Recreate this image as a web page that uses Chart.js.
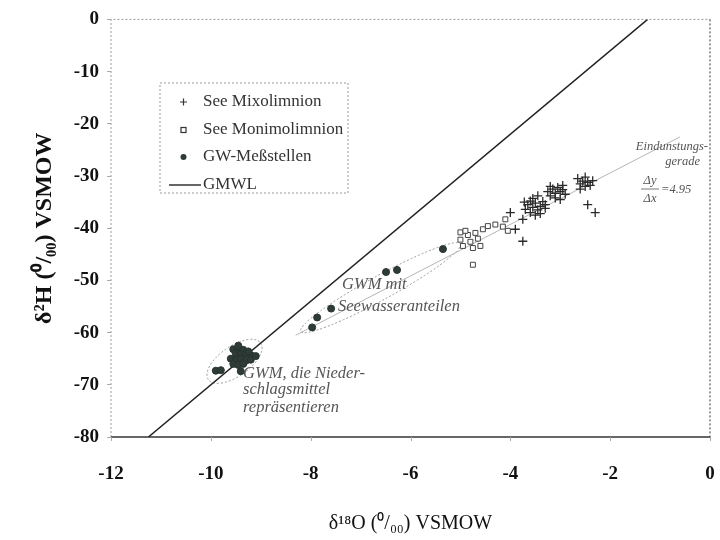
<!DOCTYPE html>
<html>
<head>
<meta charset="utf-8">
<script src="https://cdn.jsdelivr.net/npm/chart.js@4"></script>
<style>
 html,body{margin:0;padding:0;background:#fff;}
 #wrap{width:720px;height:540px;position:relative;}
</style>
</head>
<body>
<div id="wrap"><canvas id="c" width="720" height="540"></canvas></div>
<script>
// See Mixolimnion (+)
const mixoX=[-3.72,-3.65,-3.6,-3.55,-3.5,-3.45,-3.4,-3.35,-3.3,-3.6,-3.5,-3.4,-3.7,-3.3,-3.55,-3.45,
 -3.25,-3.2,-3.15,-3.1,-3.05,-3.0,-2.95,-2.9,-3.1,-3.0,-3.2,-2.95,
 -2.65,-2.6,-2.55,-2.5,-2.45,-2.4,-2.35,-2.6,-2.5,
 -2.45,-2.3,-4.0,-3.75,-3.9,-3.75];
const mixoY=[-35.0,-35.5,-34.8,-36.0,-35.2,-36.5,-35.8,-34.9,-36.2,-37.0,-37.5,-37.2,-36.4,-35.5,-34.3,-33.8,
 -33.0,-33.8,-32.5,-33.3,-32.2,-33.0,-32.6,-33.5,-34.2,-34.5,-32.0,-31.8,
 -30.5,-31.5,-31.0,-32.0,-31.2,-31.8,-30.9,-32.5,-30.2,
 -35.5,-37.0,-37.0,-38.3,-40.2,-42.5];
// See Monimolimnion (open squares)
const monimoX=[-5.0,-5.0,-4.95,-4.85,-4.8,-4.75,-4.7,-4.65,-4.6,-4.55,-4.45,-4.3,-4.15,-4.05,-4.1,-4.75,-4.9];
const monimoY=[-40.8,-42.2,-43.4,-41.3,-42.6,-43.8,-40.9,-42.0,-43.4,-40.2,-39.6,-39.3,-39.7,-40.5,-38.3,-47.0,-40.5];
// GW-Messstellen (filled dots)
const gwmX=[-9.55,-9.45,-9.35,-9.5,-9.4,-9.3,-9.2,-9.1,-9.6,-9.5,-9.4,-9.3,-9.2,-9.55,-9.45,-9.35,-9.25,-9.45,-9.9,-9.8,-9.4,
 -7.97,-7.87,-7.59,-6.49,-6.27,-5.35];
const gwmY=[-63.2,-63.0,-63.3,-64.0,-64.2,-64.0,-64.3,-64.5,-65.0,-65.3,-65.0,-65.4,-65.2,-66.0,-66.2,-66.0,-63.6,-62.5,-67.3,-67.2,-67.4,
 -59.0,-57.1,-55.4,-48.4,-48.0,-44.0];
// GMWL and Eindunstungsgerade end points
const gmwlX=[-11.25,-1.25];
const gmwlY=[-80,0];
const evapX=[-8.3,-0.6];
const evapY=[-60.5,-22.5];
const xTicks=[-12,-10,-8,-6,-4,-2,0];
const yTicks=[0,-10,-20,-30,-40,-50,-60,-70,-80];

const pts=(xs,ys)=>xs.map((x,i)=>({x:x,y:ys[i]}));
const serif='"Liberation Serif","Times New Roman",serif';

const extras={
 id:'extras',
 beforeDatasetsDraw(chart){
   const ctx=chart.ctx,a=chart.chartArea,sx=chart.scales.x,sy=chart.scales.y;
   ctx.save();
   // plot frame
   ctx.setLineDash([2,2]);ctx.strokeStyle='#9a9a9a';ctx.lineWidth=1;
   ctx.beginPath();ctx.moveTo(a.left,a.bottom);ctx.lineTo(a.left,a.top);ctx.lineTo(a.right,a.top);ctx.stroke();
   ctx.strokeStyle='#777';ctx.lineWidth=1.5;
   ctx.beginPath();ctx.moveTo(a.right,a.top);ctx.lineTo(a.right,a.bottom);ctx.stroke();
   ctx.setLineDash([]);ctx.strokeStyle='#333';ctx.lineWidth=1.5;
   ctx.beginPath();ctx.moveTo(a.left,a.bottom);ctx.lineTo(a.right,a.bottom);ctx.stroke();
   // small x tick marks
   ctx.strokeStyle='#aaa';ctx.lineWidth=1;
   ctx.beginPath();
   sx.ticks.forEach(t=>{const p=Math.round(sx.getPixelForValue(t.value))+0.5;ctx.moveTo(p,a.bottom);ctx.lineTo(p,a.bottom+4);});
   ctx.stroke();
   // grouping ellipses
   ctx.setLineDash([2,2]);ctx.strokeStyle='#999';ctx.lineWidth=1;
   const ell=(x1,y1,x2,y2,r)=>{
     const p1=[sx.getPixelForValue(x1),sy.getPixelForValue(y1)],p2=[sx.getPixelForValue(x2),sy.getPixelForValue(y2)];
     const cx=(p1[0]+p2[0])/2,cy=(p1[1]+p2[1])/2;
     const len=Math.hypot(p2[0]-p1[0],p2[1]-p1[1])/2,ang=Math.atan2(p2[1]-p1[1],p2[0]-p1[0]);
     ctx.beginPath();ctx.ellipse(cx,cy,len,r,ang,0,Math.PI*2);ctx.stroke();
   };
   ell(-8.2,-59.8,-5.0,-43.0,12);
   ell(-10.05,-69.0,-9.0,-62.0,15);
   ctx.restore();
 },
 afterDraw(chart){
   const ctx=chart.ctx;
   ctx.save();
   // legend box
   ctx.setLineDash([2,2]);ctx.strokeStyle='#999';ctx.lineWidth=1;
   ctx.strokeRect(160,83,188,110);
   ctx.setLineDash([]);
   ctx.font='17px '+serif;ctx.fillStyle='#333';ctx.textBaseline='middle';
   const rows=[['See Mixolimnion',102],['See Monimolimnion',130],['GW-Meßstellen',157],['GMWL',185]];
   rows.forEach(r=>ctx.fillText(r[0],203,r[1]));
   ctx.strokeStyle='#333';ctx.lineWidth=1.2;
   ctx.beginPath();ctx.moveTo(180,102);ctx.lineTo(187,102);ctx.moveTo(183.5,98.5);ctx.lineTo(183.5,105.5);ctx.stroke();
   ctx.strokeRect(181,127.5,5,5);
   ctx.fillStyle='#2f3b36';ctx.beginPath();ctx.arc(183.5,157,3,0,Math.PI*2);ctx.fill();
   ctx.lineWidth=1.5;ctx.beginPath();ctx.moveTo(169,185);ctx.lineTo(201,185);ctx.stroke();
   // annotations
   ctx.fillStyle='#555';ctx.textBaseline='alphabetic';
   ctx.font='italic 16.5px '+serif;
   ctx.fillText('GWM mit',342,289);
   ctx.fillText('Seewasseranteilen',338,311);
   ctx.fillText('GWM, die Nieder-',243,378);
   ctx.fillText('schlagsmittel',243,394);
   ctx.fillText('repräsentieren',243,412);
   ctx.font='italic 12.5px '+serif;
   ctx.textAlign='right';
   ctx.fillText('Eindunstungs-',708,150);
   ctx.fillText('gerade',700,165);
   ctx.textAlign='center';
   ctx.fillText('Δy',650,184);
   ctx.fillText('Δx',650,202);
   ctx.strokeStyle='#555';ctx.lineWidth=0.8;
   ctx.beginPath();ctx.moveTo(641,189);ctx.lineTo(659,189);ctx.stroke();
   ctx.textAlign='left';
   ctx.fillText('=4.95',661,193);
   ctx.restore();
 }
};

new Chart(document.getElementById('c'),{
 type:'scatter',
 data:{datasets:[
   {label:'See Mixolimnion',data:pts(mixoX,mixoY),pointStyle:'cross',pointRadius:4.5,borderColor:'#2a2a2a',borderWidth:1.3,order:1},
   {label:'See Monimolimnion',data:pts(monimoX,monimoY),pointStyle:'rect',pointRadius:3.5,borderColor:'#444',backgroundColor:'#fff',borderWidth:1,order:2},
   {label:'GW-Meßstellen',data:pts(gwmX,gwmY),pointStyle:'circle',pointRadius:3.5,borderColor:'#26332e',backgroundColor:'#2f3b36',borderWidth:1,order:3},
   {label:'GMWL',data:pts(gmwlX,gmwlY),showLine:true,borderColor:'#222',borderWidth:1.5,pointRadius:0,order:5},
   {label:'Eindunstungsgerade',data:pts(evapX,evapY),showLine:true,borderColor:'#b5b5b5',borderWidth:1,pointRadius:0,order:6}
 ]},
 options:{
   responsive:false,animation:false,
   layout:{padding:{left:26,right:10,top:17,bottom:0}},
   plugins:{legend:{display:false},tooltip:{enabled:false}},
   scales:{
     x:{type:'linear',min:-12,max:0,
       afterBuildTicks:s=>{s.ticks=xTicks.map(v=>({value:v}));},
       afterFit:s=>{s.height=103;},
       grid:{drawOnChartArea:false,tickLength:24,tickColor:'rgba(0,0,0,0)'},
       border:{display:false},
       ticks:{color:'#111',padding:2,font:{family:serif,size:19,weight:'bold'}},
       title:{display:true,text:'δ¹⁸O (⁰/₀₀) VSMOW',color:'#111',padding:{top:10},font:{family:serif,size:20}}
     },
     y:{type:'linear',min:-80,max:0,
       afterBuildTicks:s=>{s.ticks=yTicks.map(v=>({value:v}));},
       afterFit:s=>{s.width=85;},
       grid:{drawOnChartArea:false,tickLength:4,color:'#aaa'},
       border:{display:false},
       ticks:{color:'#111',padding:8,font:{family:serif,size:19,weight:'bold'}},
       title:{display:true,text:'δ²H (⁰/₀₀) VSMOW',color:'#111',padding:{bottom:6},font:{family:serif,size:24,weight:'bold'}}
     }
   }
 },
 plugins:[extras]
});
</script>
</body>
</html>
